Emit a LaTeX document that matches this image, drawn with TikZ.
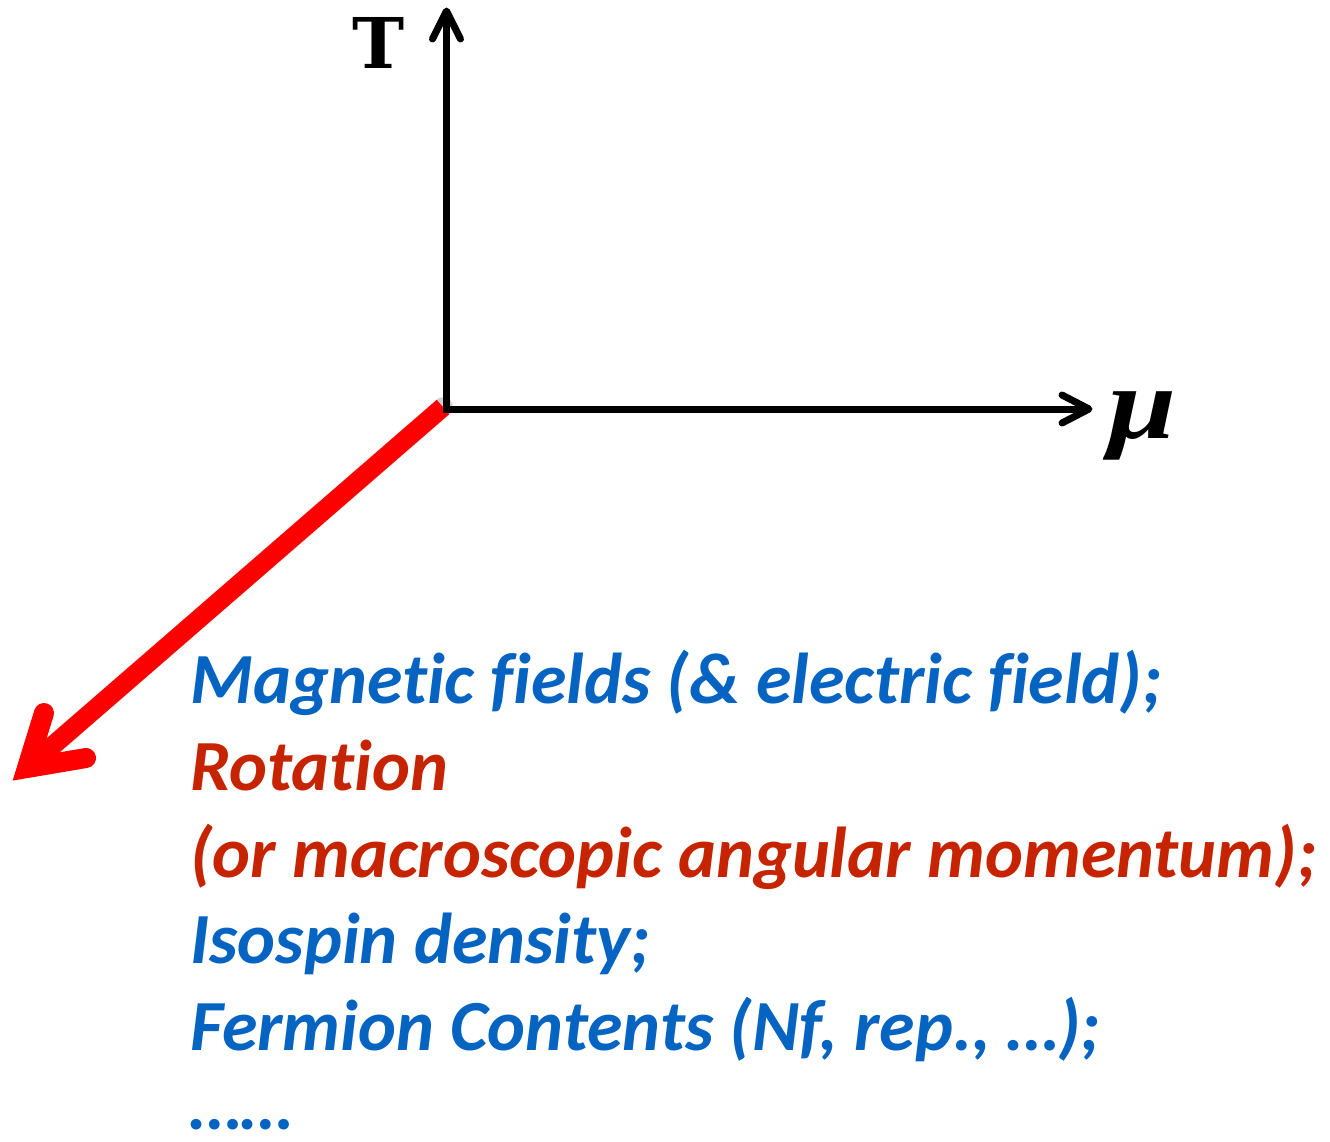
\documentclass[tikz,border=0pt]{standalone}
\usepackage{fontspec}
\setmainfont[Ligatures={CommonOff,ContextualOff}]{Carlito}
\newfontfamily\labfont{DejaVu Serif}
\newfontfamily\mufont{Liberation Serif}
\definecolor{txtblue}{RGB}{5,99,193}
\definecolor{txtred}{RGB}{198,36,0}
\definecolor{arrred}{RGB}{255,0,0}
\tikzset{
  axisline/.style={line width=7pt, black, line cap=butt},
  axishead/.style={line width=7pt, black, line cap=round, line join=round},
  redline/.style={line width=19pt, arrred, line cap=butt},
  redhead/.style={line width=20pt, arrred, line cap=round, line join=miter},
  shadowline/.style={line width=20pt, black, opacity=0.10, line cap=round, line join=round},
  txt/.style={anchor=base west, inner sep=0pt, font=\fontsize{72}{76}\selectfont\bfseries\itshape},
}
\begin{document}
\begin{tikzpicture}[x=1pt,y=-1pt]
\useasboundingbox (0,0) rectangle (1330,1141);
% coordinates
\coordinate (o) at (446.5,409);
\coordinate (ttip) at (446.5,11);
\coordinate (tw1) at (432.5,39);
\coordinate (tw2) at (460.5,39);
\coordinate (mtip) at (1089,409);
\coordinate (mw1) at (1062,395);
\coordinate (mw2) at (1062,423);
\coordinate (rs) at (443,407);
\coordinate (rv) at (27,768);
\coordinate (rw1) at (44,713);
\coordinate (rw2) at (86,758);
% shadow of red arrow
\begin{scope}[shift={(6,7)}]
  \draw[shadowline] (rs) -- (rv);
  \draw[shadowline] (rw1) -- (rv) -- (rw2);
\end{scope}
\begin{scope}[shift={(3,4)}]
  \draw[shadowline,line width=19pt] (rs) -- (rv);
  \draw[shadowline,line width=19pt] (rw1) -- (rv) -- (rw2);
\end{scope}
% red arrow
\draw[redline] (rs) -- (rv);
\draw[redhead] (rw1) -- (rv) -- (rw2);
% axes
\draw[axisline] (446.5,405.5) -- (ttip);
\draw[axishead] (tw1) -- (ttip) -- (tw2);
\draw[axisline] (443,409) -- (mtip);
\draw[axishead] (mw1) -- (mtip) -- (mw2);
% labels
\node[anchor=base, inner sep=0pt, font=\labfont\fontsize{70}{72}\selectfont\bfseries] (tlab) at (379,68) {T};
\node[anchor=base west, inner sep=0pt, xscale=1.2, font=\mufont\fontsize{102}{104}\selectfont\bfseries\itshape] (mulab) at (1108,438) {μ};
% text
\node[txt, text=txtblue] (l1) at (190,703) {Magnetic fields (\& electric field);};
\node[txt, text=txtred] (l2) at (190,790) {Rotation};
\node[txt, text=txtred] (l3) at (190,877) {(or macroscopic angular momentum);};
\node[txt, text=txtblue] (l4) at (190,963) {Isospin density;};
\node[txt, text=txtblue] (l5) at (190,1050) {Fermion Contents (Nf, rep., …);};
\node[txt, text=txtblue, text depth=0pt] (l6) at (190,1129) {……};
\end{tikzpicture}
\end{document}
